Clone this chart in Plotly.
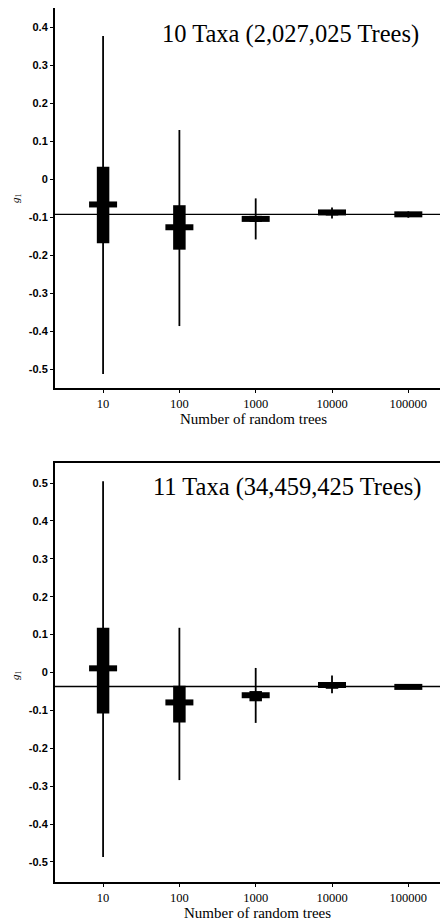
import plotly.graph_objects as go

# ---------------- data ----------------
n_trees = [10, 100, 1000, 10000, 100000]
x_tick_labels = ["10", "100", "1000", "10000", "100000"]

# panel 1 : 10 taxa
p1_title = "10 Taxa (2,027,025 Trees)"
p1_max = [0.376, 0.129, -0.051, -0.075, -0.085]
p1_q3 = [0.032, -0.069, -0.097, -0.082, -0.087]
p1_median = [-0.067, -0.127, -0.105, -0.088, -0.093]
p1_q1 = [-0.169, -0.186, -0.113, -0.096, -0.099]
p1_min = [-0.513, -0.387, -0.159, -0.104, -0.102]
p1_true = -0.093
p1_yticks = [0.4, 0.3, 0.2, 0.1, 0, -0.1, -0.2, -0.3, -0.4, -0.5]
p1_yticklabels = ["0.4", "0.3", "0.2", "0.1", "0", "-0.1", "-0.2", "-0.3", "-0.4", "-0.5"]

# panel 2 : 11 taxa
p2_title = "11 Taxa (34,459,425 Trees)"
p2_max = [0.505, 0.118, 0.012, -0.008, -0.032]
p2_q3 = [0.118, -0.035, -0.049, -0.025, -0.034]
p2_median = [0.011, -0.079, -0.060, -0.033, -0.038]
p2_q1 = [-0.108, -0.132, -0.076, -0.043, -0.043]
p2_min = [-0.487, -0.284, -0.133, -0.055, -0.044]
p2_true = -0.037
p2_yticks = [0.5, 0.4, 0.3, 0.2, 0.1, 0, -0.1, -0.2, -0.3, -0.4, -0.5]
p2_yticklabels = ["0.5", "0.4", "0.3", "0.2", "0.1", "0", "-0.1", "-0.2", "-0.3", "-0.4", "-0.5"]

x_title = "Number of random trees"
y_title = "<i>g</i><sub>1</sub>"

# ---------------- figure ----------------
# the page body adds an 8 px margin, so the figure is 8 px smaller on each side
W, H = 440, 915
SERIF = "Liberation Serif, Times New Roman, serif"
SANS = "Liberation Sans, Arial, sans-serif"
fig = go.Figure()


def add_panel(xa, ya, vmax, vq3, vmed, vq1, vmin, true_val):
    # reference line (value from full enumeration)
    fig.add_trace(go.Scatter(
        x=[10 ** 0.3, 10 ** 5.6], y=[true_val, true_val], mode="lines",
        xaxis=xa, yaxis=ya, line=dict(color="black", width=1.3),
        showlegend=False, hoverinfo="skip"))
    # whiskers
    fig.add_trace(go.Scatter(
        x=n_trees, y=vmed, mode="markers", xaxis=xa, yaxis=ya,
        marker=dict(size=1, color="black", opacity=0),
        error_y=dict(type="data", symmetric=False,
                     array=[a - m for a, m in zip(vmax, vmed)],
                     arrayminus=[m - b for m, b in zip(vmed, vmin)],
                     width=0, thickness=1.8, color="black"),
        showlegend=False, hoverinfo="skip"))
    # boxes
    fig.add_trace(go.Scatter(
        x=n_trees, y=vmed, mode="markers", xaxis=xa, yaxis=ya,
        marker=dict(size=1, color="black", opacity=0),
        error_y=dict(type="data", symmetric=False,
                     array=[a - m for a, m in zip(vq3, vmed)],
                     arrayminus=[m - b for m, b in zip(vmed, vq1)],
                     width=0, thickness=12.5, color="black"),
        showlegend=False, hoverinfo="skip"))
    # median bars
    fig.add_trace(go.Scatter(
        x=n_trees, y=vmed, mode="markers", xaxis=xa, yaxis=ya,
        marker=dict(symbol="line-ew", size=20, color="black",
                    line=dict(width=6, color="black")),
        showlegend=False, hoverinfo="skip"))


add_panel("x", "y", p1_max, p1_q3, p1_median, p1_q1, p1_min, p1_true)
add_panel("x2", "y2", p2_max, p2_q3, p2_median, p2_q1, p2_min, p2_true)


def px(x):
    return x / W


def py(y):
    return 1 - y / H


x_dom = [px(47), 1.0]
y1_dom = [py(380), 1.0]
y2_dom = [py(874), py(455)]

xaxis_common = dict(
    type="log", range=[0.37, 5.52], tickvals=n_trees, ticktext=x_tick_labels,
    showgrid=False, zeroline=False, showline=True, linecolor="black",
    linewidth=2, mirror=True, ticks="outside", ticklen=3, tickcolor="black",
    tickwidth=1, automargin=False,
    tickfont=dict(family=SERIF, size=12.5, color="black"),
    domain=x_dom,
)
yaxis_common = dict(
    showgrid=False, zeroline=False, showline=True, linecolor="black",
    linewidth=2, mirror=True, ticks="outside", ticklen=3, tickcolor="black",
    tickwidth=1, automargin=False,
    tickfont=dict(family=SANS, size=11, color="black", weight="bold"),
)

fig.update_layout(
    width=W, height=H,
    margin=dict(l=0, r=0, t=0, b=0),
    paper_bgcolor="white", plot_bgcolor="white",
    xaxis=dict(**xaxis_common, anchor="y"),
    xaxis2=dict(**xaxis_common, anchor="y2"),
    yaxis=dict(**yaxis_common, domain=y1_dom, range=[-0.55, 0.45],
               tickvals=p1_yticks, ticktext=p1_yticklabels, anchor="x"),
    yaxis2=dict(**yaxis_common, domain=y2_dom, range=[-0.553, 0.553],
                tickvals=p2_yticks, ticktext=p2_yticklabels, anchor="x2"),
    annotations=[
        dict(text=p1_title, xref="paper", yref="paper", x=px(282.5), y=py(26),
             showarrow=False, font=dict(family=SERIF, size=24.5, color="black"),
             xanchor="center", yanchor="middle"),
        dict(text=p2_title, xref="paper", yref="paper", x=px(279), y=py(479),
             showarrow=False, font=dict(family=SERIF, size=24.5, color="black"),
             xanchor="center", yanchor="middle"),
        dict(text=x_title, xref="paper", yref="paper", x=px(245.5), y=py(411),
             showarrow=False, font=dict(family=SERIF, size=15, color="black"),
             xanchor="center", yanchor="middle"),
        dict(text=x_title, xref="paper", yref="paper", x=px(249), y=py(905),
             showarrow=False, font=dict(family=SERIF, size=15, color="black"),
             xanchor="center", yanchor="middle"),
        dict(text=y_title, xref="paper", yref="paper", x=px(8), y=py(190),
             showarrow=False, textangle=-90,
             font=dict(family=SERIF, size=11, color="black"),
             xanchor="center", yanchor="middle"),
        dict(text=y_title, xref="paper", yref="paper", x=px(8), y=py(667),
             showarrow=False, textangle=-90,
             font=dict(family=SERIF, size=11, color="black"),
             xanchor="center", yanchor="middle"),
    ],
)

fig.write_html("out.html")
